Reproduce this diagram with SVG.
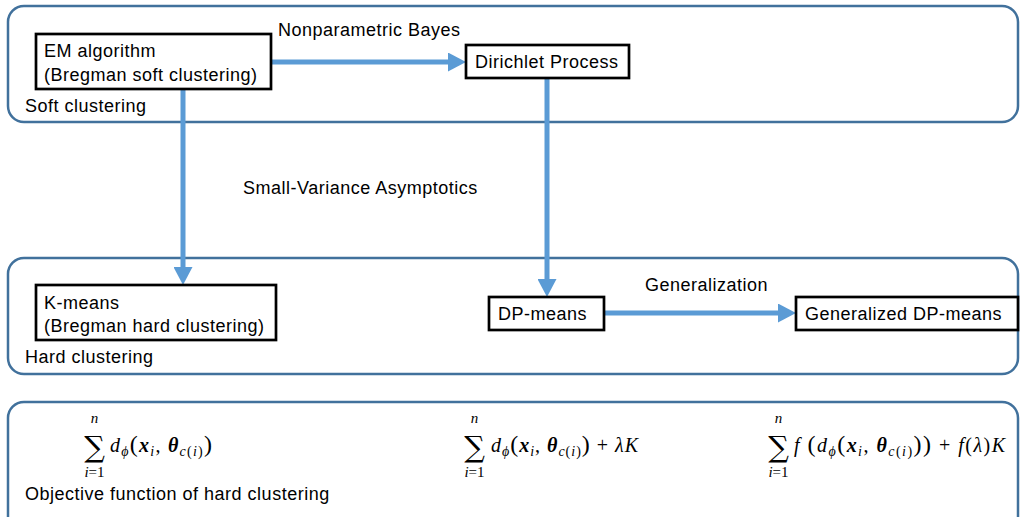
<svg xmlns="http://www.w3.org/2000/svg" width="1020" height="517" viewBox="0 0 1020 517">
<style>
.cont{fill:none;stroke:#41719C;stroke-width:2.5}
.node rect{fill:#fff;stroke:#000;stroke-width:2.7}
.t{font-family:"Liberation Sans",Arial,sans-serif;font-size:18px;letter-spacing:0.5px;fill:#000}
.edge{stroke:#5B9BD5;stroke-width:5;fill:none}
.m{font-family:"Liberation Serif","DejaVu Serif",serif;font-style:italic;font-size:20px;fill:#000}
.sig{font-family:"DejaVu Serif",serif;font-size:29px;fill:#000;text-anchor:middle}
.lim{font-family:"Liberation Serif","DejaVu Serif",serif;font-style:italic;font-size:15px;fill:#000;text-anchor:middle}
.up{font-style:normal}
.P{font-style:normal;font-size:24px}
.b{font-weight:bold}
.s{font-size:14px}
</style>
<defs>
<marker id="ah" viewBox="0 0 18 19" markerWidth="18" markerHeight="19" markerUnits="userSpaceOnUse" refX="1" refY="9.5" orient="auto">
<path d="M0,0 L18,9.5 L0,19 Z" fill="#5B9BD5"/>
</marker>
</defs>

<g id="soft-container">
<rect class="cont" x="8" y="6" width="1010" height="116" rx="16"/>
<text class="t" x="25" y="112">Soft clustering</text>
</g>
<g id="hard-container">
<rect class="cont" x="8" y="258" width="1010" height="116" rx="16"/>
<text class="t" x="25" y="363">Hard clustering</text>
</g>
<g id="objective-container">
<rect class="cont" x="8" y="402" width="1010" height="140" rx="16"/>
<text class="t" x="25" y="500">Objective function of hard clustering</text>
</g>

<g id="connectors">
<line class="edge" x1="271" y1="62" x2="449" y2="62" marker-end="url(#ah)"/>
<line class="edge" x1="183" y1="89" x2="183" y2="268" marker-end="url(#ah)"/>
<line class="edge" x1="547" y1="78" x2="547" y2="280" marker-end="url(#ah)"/>
<line class="edge" x1="604" y1="313" x2="779" y2="313" marker-end="url(#ah)"/>
<text class="t" x="278" y="36">Nonparametric Bayes</text>
<text class="t" x="243" y="194">Small-Variance Asymptotics</text>
<text class="t" x="645" y="291">Generalization</text>
</g>

<g id="em" class="node">
<rect x="36" y="34" width="235" height="55"/>
<text class="t" x="44" y="57">EM algorithm</text>
<text class="t" x="44" y="81">(Bregman soft clustering)</text>
</g>
<g id="dp" class="node">
<rect x="466" y="45" width="163" height="33"/>
<text class="t" x="475" y="68">Dirichlet Process</text>
</g>
<g id="kmeans" class="node">
<rect x="36" y="285" width="240" height="55"/>
<text class="t" x="44" y="309">K-means</text>
<text class="t" x="44" y="332">(Bregman hard clustering)</text>
</g>
<g id="dpmeans" class="node">
<rect x="489" y="297" width="115" height="33"/>
<text class="t" x="498" y="320">DP-means</text>
</g>
<g id="gdpmeans" class="node">
<rect x="796" y="297" width="222" height="33"/>
<text class="t" x="805" y="320">Generalized DP-means</text>
</g>

<g id="formula1">
<text class="lim" x="94.5" y="423">n</text>
<text class="sig" x="94.5" y="457">∑</text>
<text class="lim" x="94.5" y="477">i<tspan class="up">=1</tspan></text>
<text class="m" x="110" y="452" textLength="102" lengthAdjust="spacing">d<tspan class="s" dy="4">ϕ</tspan><tspan class="P" dy="-4">(</tspan><tspan class="b">x</tspan><tspan class="s" dy="4">i</tspan><tspan class="up" dy="-4">, </tspan><tspan class="b">θ</tspan><tspan class="s" dy="4">c<tspan class="up">(</tspan>i<tspan class="up">)</tspan></tspan><tspan class="P" dy="-4">)</tspan></text>
</g>
<g id="formula2">
<text class="lim" x="474.5" y="423">n</text>
<text class="sig" x="474.5" y="457">∑</text>
<text class="lim" x="474.5" y="477">i<tspan class="up">=1</tspan></text>
<text class="m" x="491" y="452" textLength="147" lengthAdjust="spacing">d<tspan class="s" dy="4">ϕ</tspan><tspan class="P" dy="-4">(</tspan><tspan class="b">x</tspan><tspan class="s" dy="4">i</tspan><tspan class="up" dy="-4">, </tspan><tspan class="b">θ</tspan><tspan class="s" dy="4">c<tspan class="up">(</tspan>i<tspan class="up">)</tspan></tspan><tspan class="P" dy="-4">)</tspan><tspan class="up"> + </tspan>λK</text>
</g>
<g id="formula3">
<text class="lim" x="778.5" y="423">n</text>
<text class="sig" x="778.5" y="457">∑</text>
<text class="lim" x="778.5" y="477">i<tspan class="up">=1</tspan></text>
<text class="m" x="794" y="452" textLength="211" lengthAdjust="spacing">f <tspan class="P">(</tspan>d<tspan class="s" dy="4">ϕ</tspan><tspan class="P" dy="-4">(</tspan><tspan class="b">x</tspan><tspan class="s" dy="4">i</tspan><tspan class="up" dy="-4">, </tspan><tspan class="b">θ</tspan><tspan class="s" dy="4">c<tspan class="up">(</tspan>i<tspan class="up">)</tspan></tspan><tspan class="P" dy="-4">))</tspan><tspan class="up"> + </tspan>f<tspan class="up">(</tspan>λ<tspan class="up">)</tspan>K</text>
</g>
</svg>
